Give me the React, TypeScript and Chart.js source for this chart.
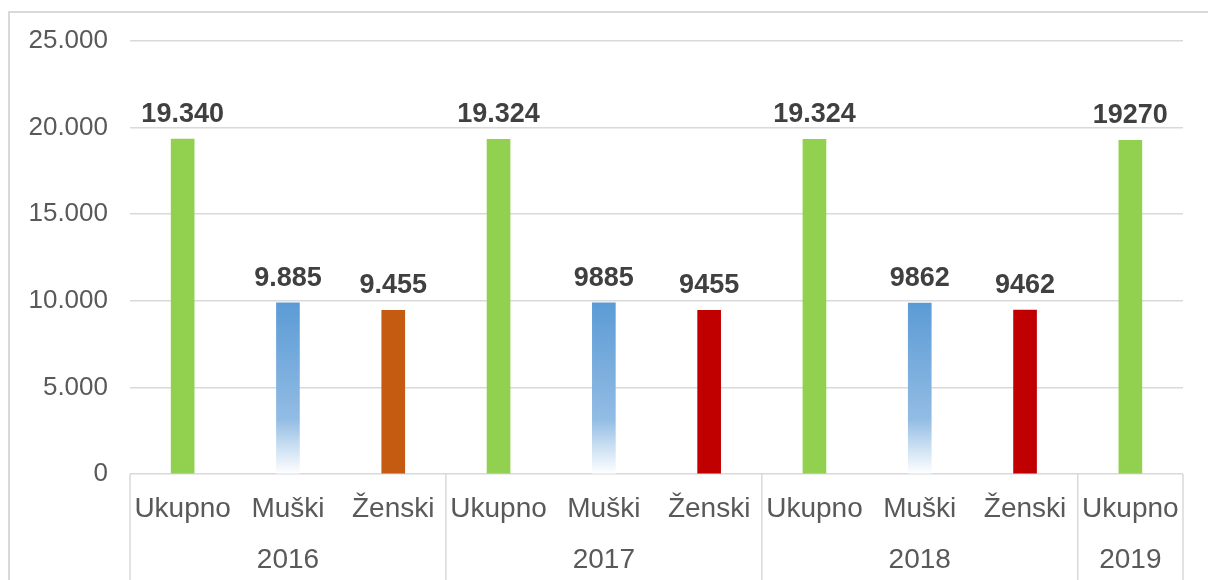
import { useEffect, useRef } from "react";
import { Chart, registerables } from "chart.js";

Chart.register(...registerables);

const categories = ["Ukupno", "Muški", "Ženski", "Ukupno", "Muški", "Ženski", "Ukupno", "Muški", "Ženski", "Ukupno"];
const years = ["2016", "2017", "2018", "2019"];
const groupSizes = [3, 3, 3, 1];
const values = [19340, 9885, 9455, 19324, 9885, 9455, 19324, 9862, 9462, 19270];
const valueLabels = ["19.340", "9.885", "9.455", "19.324", "9885", "9455", "19.324", "9862", "9462", "19270"];
const yMax = 25000;
const yStep = 5000;

const barColors = ["#92D050", "gradient", "#C55A11", "#92D050", "gradient", "#C00000", "#92D050", "gradient", "#C00000", "#92D050"];

const FONT = "'Liberation Sans', Arial, sans-serif";
const GRID = "#d9d9d9";
const TEXT = "#595959";

function fmt(v: number): string {
  return String(Math.round(v)).replace(/\B(?=(\d{3})+(?!\d))/g, ".");
}

const framePlugin = {
  id: "frame",
  beforeDraw(chart: any) {
    const c = chart.ctx;
    c.save();
    c.fillStyle = "#ffffff";
    c.fillRect(0, 0, chart.width, chart.height);
    c.strokeStyle = GRID;
    c.lineWidth = 2;
    c.strokeRect(9, 12, chart.width + 50, chart.height + 50);
    c.restore();
  },
};

const labelsPlugin = {
  id: "valueLabels",
  afterDatasetsDraw(chart: any) {
    const c = chart.ctx;
    const meta = chart.getDatasetMeta(0);
    c.save();
    c.font = "bold 27px " + FONT;
    c.fillStyle = "#404040";
    c.textAlign = "center";
    c.textBaseline = "alphabetic";
    meta.data.forEach((el: any, i: number) => {
      c.fillText(valueLabels[i], el.x, el.y - 17);
    });
    c.restore();
  },
};

const groupsPlugin = {
  id: "groups",
  afterDraw(chart: any) {
    const c = chart.ctx;
    const xs = chart.scales.x;
    const ys = chart.scales.y;
    const cw = xs.getPixelForValue(1) - xs.getPixelForValue(0);
    const axisY = ys.getPixelForValue(0);
    c.save();
    c.strokeStyle = GRID;
    c.lineWidth = 1.5;
    c.font = "28px " + FONT;
    c.fillStyle = TEXT;
    c.textAlign = "center";
    c.textBaseline = "alphabetic";
    let start = 0;
    const bounds: number[] = [xs.getPixelForValue(0) - cw / 2];
    groupSizes.forEach((n, g) => {
      const l = xs.getPixelForValue(start) - cw / 2;
      const r = xs.getPixelForValue(start + n - 1) + cw / 2;
      bounds.push(r);
      c.fillText(years[g], (l + r) / 2, axisY + 94);
      start += n;
    });
    bounds.forEach((bx) => {
      c.beginPath();
      c.moveTo(bx, axisY);
      c.lineTo(bx, chart.height);
      c.stroke();
    });
    c.restore();
  },
};

export default function App() {
  const ref = useRef<HTMLCanvasElement>(null);
  useEffect(() => {
    if (!ref.current) return;
    const chart = new Chart(ref.current, {
      type: "bar",
      data: {
        labels: categories,
        datasets: [
          {
            data: values,
            barThickness: 23,
            backgroundColor: (ctx: any) => {
              const i = ctx.dataIndex;
              const col = barColors[i];
              if (col !== "gradient") return col;
              const ch = ctx.chart;
              const ys = ch.scales && ch.scales.y;
              if (!ys || !ch.chartArea) return "#5B9BD5";
              const top = ys.getPixelForValue(values[i]);
              const bottom = ys.getPixelForValue(0);
              const g = ch.ctx.createLinearGradient(0, top, 0, bottom);
              g.addColorStop(0, "#5B9BD5");
              g.addColorStop(0.68, "#92BCE4");
              g.addColorStop(0.82, "#C3DBF1");
              g.addColorStop(1, "#FFFFFF");
              return g;
            },
          },
        ],
      },
      options: {
        responsive: false,
        animation: false,
        layout: { padding: { left: 0, right: 25, top: 41, bottom: 0 } },
        plugins: { legend: { display: false }, tooltip: { enabled: false } },
        scales: {
          x: {
            grid: { display: false },
            border: { display: false },
            ticks: {
              font: { family: FONT, size: 28 },
              color: TEXT,
              maxRotation: 0,
              autoSkip: false,
              padding: 10,
            },
            afterFit: (s: any) => {
              s.height = 106;
            },
          },
          y: {
            min: 0,
            max: yMax,
            grid: { color: GRID, lineWidth: 1.5, drawTicks: false },
            border: { display: false },
            ticks: {
              stepSize: yStep,
              font: { family: FONT, size: 26 },
              color: TEXT,
              padding: 22,
              callback: (v: any) => fmt(Number(v)),
            },
            afterFit: (s: any) => {
              s.width = 130;
            },
          },
        },
      },
      plugins: [framePlugin, labelsPlugin, groupsPlugin],
    });
    return () => chart.destroy();
  }, []);
  return (
    <div style={{ position: "fixed", left: 0, top: 0, width: 1208, height: 580 }}>
      <canvas ref={ref} width={1208} height={580} style={{ display: "block" }} />
    </div>
  );
}
